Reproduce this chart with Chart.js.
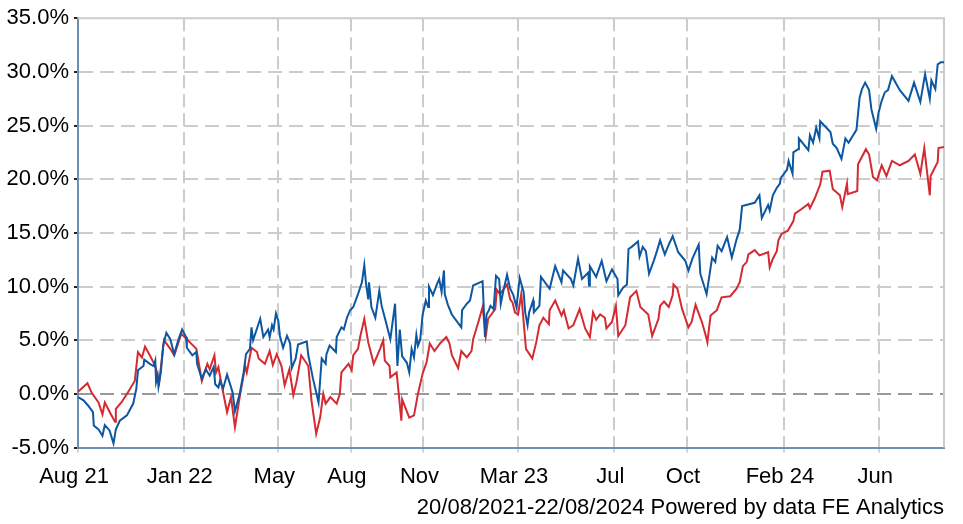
<!DOCTYPE html>
<html>
<head>
<meta charset="utf-8">
<title>Performance</title>
<script src="https://cdn.jsdelivr.net/npm/chart.js@4"></script>
<style>
  html, body { margin: 0; padding: 0; background: #fff; }
  #wrap { width: 963px; height: 524px; position: relative; }
</style>
</head>
<body>
<div id="wrap"><canvas id="chart"></canvas></div>
<script>
// x values are days since 20/08/2021
const tickDays = [0, 134, 254, 346, 438, 558, 680, 772, 895, 1016];
const tickLabels = ['Aug 21', 'Jan 22', 'May', 'Aug', 'Nov', 'Mar 23', 'Jul', 'Oct', 'Feb 24', 'Jun'];

const fundDays = [0, 7, 13, 19, 20, 26, 31, 34, 40, 45, 48, 53, 62, 70, 74, 76, 83, 84, 91, 96, 98, 99, 101, 102, 105, 108, 112, 117, 122, 127, 132, 137, 138, 145, 150, 151, 157, 162, 167, 172, 174, 178, 180, 184, 189, 196, 199, 205, 210, 213, 218, 220, 222, 231, 235, 241, 243, 246, 248, 251, 254, 256, 260, 265, 269, 271, 276, 279, 290, 292, 298, 305, 309, 314, 315, 319, 327, 328, 334, 337, 341, 345, 349, 355, 360, 363, 365, 368, 369, 372, 377, 382, 385, 389, 396, 402, 405, 408, 411, 417, 420, 423, 426, 429, 431, 434, 437, 441, 444, 445, 450, 455, 458, 461, 464, 465, 469, 474, 486, 487, 493, 497, 501, 513, 516, 518, 521, 523, 527, 530, 534, 536, 539, 544, 548, 552, 556, 560, 565, 567, 570, 572, 577, 578, 585, 587, 598, 605, 613, 615, 625, 628, 634, 639, 647, 648, 649, 657, 664, 670, 677, 684, 685, 691, 696, 698, 702, 710, 712, 716, 720, 724, 730, 734, 738, 744, 749, 754, 761, 770, 774, 779, 787, 789, 797, 804, 808, 811, 816, 823, 829, 835, 839, 842, 858, 864, 867, 875, 877, 881, 886, 890, 891, 899, 901, 906, 907, 913, 914, 926, 928, 932, 936, 940, 941, 954, 957, 962, 968, 973, 977, 987, 991, 994, 998, 1003, 1006, 1012, 1015, 1019, 1023, 1027, 1032, 1042, 1053, 1060, 1068, 1074, 1080, 1082, 1087, 1090, 1094, 1098];
const fundValues = [-0.3, -0.6, -1.1, -1.7, -2.95, -3.3, -3.9, -2.9, -3.4, -4.6, -3.3, -2.5, -2.0, -0.9, 0.5, 2.2, 2.6, 3.2, 2.8, 2.6, 3.1, 1.1, 1.7, 0.7, 2.0, 4.5, 5.7, 5.1, 3.7, 5.0, 6.0, 5.3, 4.3, 3.6, 3.9, 2.8, 1.4, 2.3, 1.7, 2.5, 0.9, 0.6, 1.2, 0.5, 1.8, 0.15, -1.6, 0.0, 2.0, 3.7, 4.2, 6.2, 5.0, 7.0, 5.3, 6.0, 5.3, 6.4, 6.0, 7.5, 6.8, 5.4, 4.3, 5.4, 4.7, 2.4, 3.3, 4.6, 4.9, 3.6, 1.4, -0.8, 3.3, 2.8, 3.7, 4.5, 3.9, 5.3, 6.2, 6.0, 7.1, 7.8, 8.1, 9.3, 10.4, 12.0, 10.4, 8.8, 10.4, 8.1, 7.1, 9.6, 8.2, 7.1, 5.1, 8.4, 2.6, 6.0, 3.5, 2.9, 2.0, 4.2, 3.4, 5.5, 4.5, 5.1, 7.4, 8.7, 8.1, 10.0, 9.2, 10.2, 10.7, 9.5, 11.5, 9.3, 8.3, 7.4, 6.2, 7.8, 8.4, 8.7, 10.1, 10.5, 5.3, 7.4, 7.8, 8.2, 7.9, 11.0, 10.7, 8.4, 9.5, 11.1, 9.8, 9.2, 8.1, 10.8, 9.5, 7.6, 6.4, 7.6, 8.7, 7.6, 8.2, 10.9, 9.8, 11.9, 10.4, 11.5, 10.7, 10.1, 12.6, 10.7, 11.3, 10.1, 11.9, 10.9, 12.4, 10.5, 11.6, 10.7, 9.2, 9.9, 10.2, 13.5, 13.7, 14.2, 12.8, 13.7, 13.3, 11.2, 12.4, 13.3, 14.3, 13.0, 13.9, 14.7, 13.2, 12.4, 11.5, 12.6, 13.9, 11.2, 9.3, 12.7, 12.3, 13.8, 13.3, 14.6, 12.7, 14.4, 15.3, 17.5, 17.8, 18.5, 16.4, 17.6, 17.1, 18.5, 19.2, 19.6, 20.1, 20.9, 21.7, 20.5, 22.5, 22.8, 23.8, 22.7, 24.1, 23.4, 24.8, 23.8, 25.4, 24.4, 23.3, 22.9, 21.9, 23.8, 23.4, 24.6, 27.6, 28.4, 29.0, 28.3, 26.5, 24.7, 26.2, 27.3, 28.1, 28.3, 29.6, 28.3, 27.3, 29.0, 27.2, 29.8, 27.5, 29.2, 28.4, 30.7, 30.9, 30.9];

const sectorDays = [0, 12, 17, 26, 31, 34, 41, 47, 48, 55, 62, 72, 76, 81, 85, 91, 98, 103, 109, 117, 122, 131, 138, 146, 150, 153, 157, 164, 167, 173, 175, 178, 182, 189, 194, 199, 205, 212, 214, 220, 227, 229, 237, 243, 247, 252, 258, 262, 268, 273, 277, 283, 292, 296, 302, 307, 311, 314, 320, 328, 332, 334, 343, 347, 349, 355, 358, 363, 368, 375, 383, 387, 389, 395, 396, 404, 410, 411, 420, 426, 431, 437, 442, 446, 452, 459, 467, 471, 474, 482, 486, 493, 499, 501, 508, 513, 517, 520, 529, 531, 535, 544, 548, 551, 554, 558, 562, 568, 576, 581, 585, 590, 597, 598, 605, 613, 616, 622, 628, 636, 643, 649, 653, 657, 662, 668, 670, 677, 682, 685, 694, 700, 708, 713, 723, 728, 736, 738, 743, 749, 754, 755, 760, 766, 774, 778, 783, 791, 795, 798, 802, 810, 816, 827, 835, 839, 843, 848, 850, 858, 864, 875, 877, 881, 886, 888, 892, 900, 907, 909, 917, 926, 928, 934, 941, 944, 953, 957, 966, 969, 975, 976, 988, 989, 999, 1003, 1008, 1013, 1019, 1025, 1032, 1042, 1053, 1061, 1068, 1073, 1076, 1080, 1081, 1090, 1091, 1098];
const sectorValues = [0.2, 1.0, 0.15, -0.8, -1.9, -0.8, -1.8, -2.6, -1.4, -0.8, 0.0, 1.2, 3.9, 3.4, 4.4, 3.6, 2.6, 1.1, 5.0, 4.2, 3.6, 5.6, 5.1, 4.5, 4.2, 2.95, 1.2, 2.8, 2.3, 3.6, 2.0, 2.5, 0.9, -1.7, -0.3, -3.1, -0.3, 2.6, 2.0, 4.3, 3.9, 3.3, 2.8, 4.0, 2.7, 3.7, 2.6, 0.8, 2.3, -0.1, 1.1, 3.6, 2.6, -0.6, -3.7, -2.2, 0.0, -0.9, -0.3, -0.9, 0.0, 2.0, 2.8, 2.2, 3.6, 4.2, 5.4, 7.0, 4.8, 2.8, 4.2, 5.0, 3.1, 2.6, 1.55, 2.0, -2.5, -0.5, -2.2, -2.0, 0.0, 1.9, 2.95, 4.7, 4.0, 4.7, 5.3, 4.7, 3.6, 2.4, 4.0, 3.4, 4.0, 5.1, 6.8, 8.1, 5.4, 7.0, 7.9, 9.7, 9.3, 10.2, 8.8, 8.5, 7.6, 7.4, 9.3, 4.2, 3.3, 4.8, 6.4, 7.1, 6.5, 7.8, 8.7, 7.3, 7.8, 6.1, 6.4, 7.9, 6.1, 5.3, 7.6, 6.9, 7.4, 7.1, 6.1, 6.7, 8.2, 5.4, 6.4, 9.0, 9.6, 8.1, 7.4, 5.4, 7.0, 8.2, 8.6, 8.1, 9.2, 10.2, 9.8, 7.9, 6.2, 6.7, 8.3, 6.7, 5.7, 4.8, 7.3, 7.8, 9.0, 9.1, 9.8, 10.4, 11.9, 12.3, 13.0, 13.4, 12.9, 13.2, 11.8, 12.6, 13.3, 14.3, 14.9, 15.2, 16.1, 16.8, 17.2, 17.7, 17.3, 18.2, 19.5, 20.7, 20.8, 19.1, 18.5, 17.4, 19.6, 18.6, 18.9, 21.4, 22.8, 22.3, 20.2, 19.9, 21.3, 20.3, 21.7, 21.3, 21.7, 22.3, 20.5, 22.9, 21.0, 18.5, 20.3, 21.6, 22.9, 23.0];

const yTicks = [-5, 0, 5, 10, 15, 20, 25, 30, 35];

const FONT = { family: "'Liberation Sans', Arial, sans-serif", size: 22 };

const toPoints = (days, values) => days.map((d, i) => ({ x: d, y: values[i] }));

// solid light frame on top and right, like the original
const framePlugin = {
    id: 'frame',
    beforeDatasetsDraw(chart) {
        const { ctx, chartArea: a } = chart;
        ctx.save();
        ctx.strokeStyle = '#cccccc';
        ctx.lineWidth = 2;
        ctx.beginPath();
        ctx.moveTo(a.left, a.top);
        ctx.lineTo(a.right, a.top);
        ctx.lineTo(a.right, a.bottom);
        ctx.stroke();
        ctx.restore();
    }
};

new Chart(document.getElementById('chart'), {
    type: 'line',
    data: {
        datasets: [
            {
                label: 'Fund',
                data: toPoints(fundDays, fundValues),
                borderColor: '#0d57a1',
                borderWidth: 2,
                pointRadius: 0,
                tension: 0
            },
            {
                label: 'Sector',
                data: toPoints(sectorDays, sectorValues),
                borderColor: '#d42a31',
                borderWidth: 2,
                pointRadius: 0,
                tension: 0
            }
        ]
    },
    options: {
        responsive: true,
        maintainAspectRatio: false,
        animation: false,
        layout: { padding: { left: 0, right: 19, top: 18, bottom: 0 } },
        plugins: {
            legend: { display: false },
            tooltip: { enabled: false },
            title: {
                display: true,
                position: 'bottom',
                align: 'end',
                text: '20/08/2021-22/08/2024 Powered by data FE Analytics',
                color: '#000',
                font: { ...FONT, weight: 'normal' },
                padding: { top: 3, bottom: 3 }
            }
        },
        scales: {
            x: {
                type: 'linear',
                min: 0,
                max: 1098,
                afterBuildTicks: (scale) => {
                    scale.ticks = tickDays.map(v => ({ value: v }));
                },
                afterFit: (scale) => { scale.height = 44; },
                ticks: {
                    autoSkip: false,
                    maxRotation: 0,
                    color: '#000',
                    font: FONT,
                    padding: 11,
                    labelOffset: -4,
                    callback: (v) => tickLabels[tickDays.indexOf(v)]
                },
                grid: {
                    color: (c) => (c.tick && c.tick.value === 0 ? 'rgba(0,0,0,0)' : '#cccccc'),
                    lineWidth: 2,
                    tickLength: 5,
                    tickColor: '#aaaaaa',
                    tickWidth: 1
                },
                border: { display: true, color: '#6f8fb3', width: 2, dash: [13, 6] }
            },
            y: {
                min: -5,
                max: 35,
                afterBuildTicks: (scale) => {
                    scale.ticks = yTicks.map(v => ({ value: v }));
                },
                afterFit: (scale) => { scale.width = 78; },
                ticks: {
                    color: '#000',
                    font: FONT,
                    padding: 5,
                    callback: (v) => v.toFixed(1) + '%'
                },
                grid: {
                    color: (c) => {
                        const v = c.tick ? c.tick.value : null;
                        if (v === 0) return '#999999';
                        if (v === 35 || v === -5) return 'rgba(0,0,0,0)';
                        return '#cccccc';
                    },
                    lineWidth: 2,
                    tickLength: 4,
                    tickColor: '#222222',
                    tickWidth: 2
                },
                border: { display: true, color: '#6f8fb3', width: 2, dash: [14, 7] }
            }
        }
    },
    plugins: [framePlugin]
});
</script>
</body>
</html>
